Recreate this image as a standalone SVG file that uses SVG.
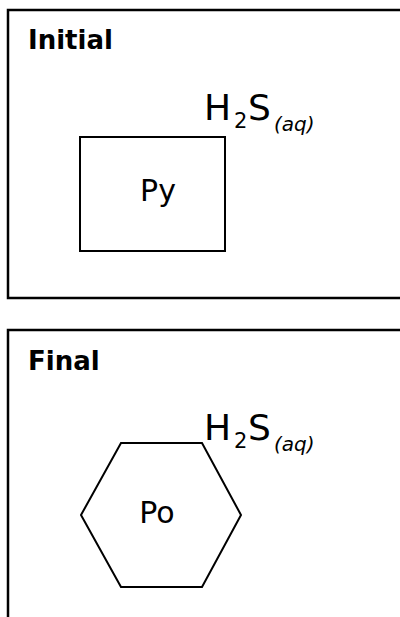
<svg xmlns="http://www.w3.org/2000/svg" width="400" height="617" viewBox="0 0 400 617">
<style>
.frame{fill:none;stroke:#000;stroke-width:2.5}
.shape{fill:none;stroke:#000;stroke-width:2}
.title{font-family:"DejaVu Sans",sans-serif;font-weight:bold;font-size:26px;fill:#000}
.lbl{font-family:"DejaVu Sans",sans-serif;font-size:30px;fill:#000}
.chem{font-family:"DejaVu Sans",sans-serif;font-size:36px;fill:#000}
.sub{font-size:21px}
.aq{font-size:20px;font-style:italic}
</style>
<rect width="400" height="617" fill="#fff"/>
<g id="panel-initial">
  <path class="frame" d="M404,10 H8 V298 H404"/>
  <text class="title" x="28" y="49">Initial</text>
</g>
<g id="node-py">
  <rect class="shape" x="80" y="137" width="145" height="114"/>
  <text class="lbl" x="158" y="201" text-anchor="middle">Py</text>
</g>
<g id="label-h2s-initial">
  <text class="chem"><tspan x="204" y="120">H</tspan><tspan class="sub" x="234" y="128">2</tspan><tspan x="248" y="120">S</tspan><tspan class="aq" x="274" y="131">(aq)</tspan></text>
</g>
<g id="panel-final">
  <path class="frame" d="M404,330 H8 V620"/>
  <text class="title" x="28" y="370">Final</text>
</g>
<g id="node-po">
  <polygon class="shape" points="121,443 202,443 241,515 202,587 121,587 81,515"/>
  <text class="lbl" x="157" y="523" text-anchor="middle">Po</text>
</g>
<g id="label-h2s-final">
  <text class="chem"><tspan x="204" y="440">H</tspan><tspan class="sub" x="234" y="448">2</tspan><tspan x="248" y="440">S</tspan><tspan class="aq" x="274" y="451">(aq)</tspan></text>
</g>
<g id="connectors"/>
</svg>
